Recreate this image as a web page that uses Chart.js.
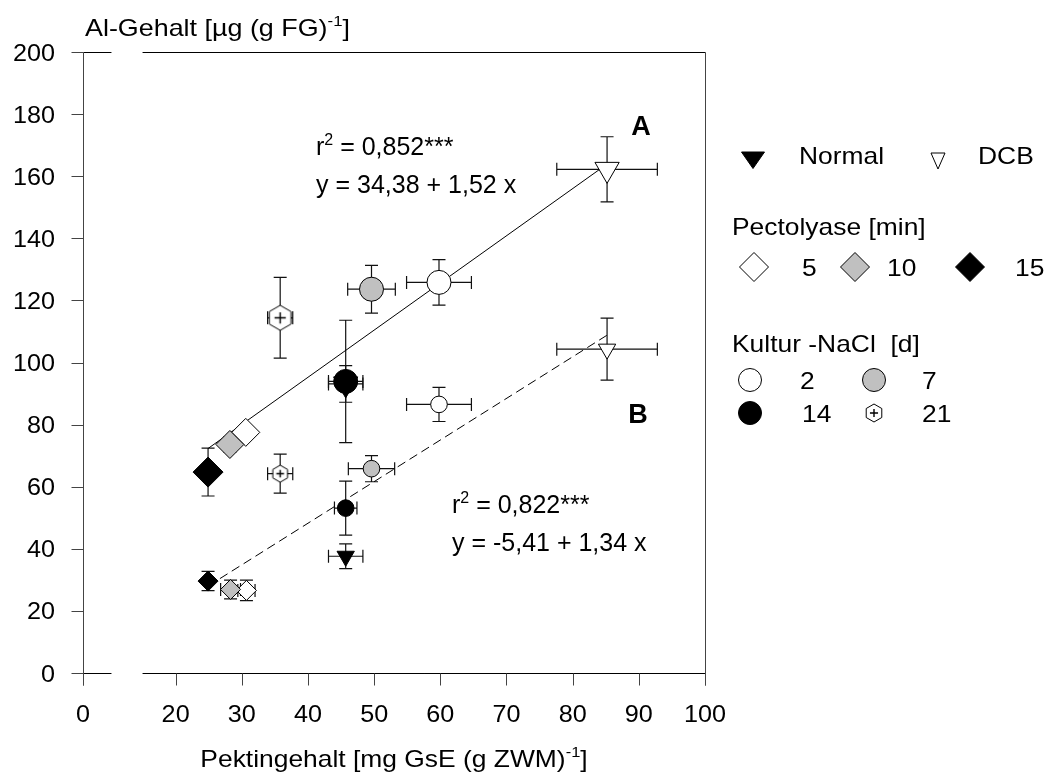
<!DOCTYPE html>
<html>
<head>
<meta charset="utf-8">
<script src="https://cdn.jsdelivr.net/npm/chart.js@4.4.0/dist/chart.umd.min.js"></script>
<style>
  html, body { margin: 0; padding: 0; background: #fff; }
  canvas { display: block; }
</style>
</head>
<body>
<canvas id="chart" width="1049" height="783"></canvas>
<script>
// values: [x, y, x error, y error]
// first row = upper group (line A), second row = lower group (line B)
const normalPts = [[45.7, 93.1, 2.6, 5.9], [45.7, 37.6, 2.6, 4.0]];
const dcbPts    = [[85.2, 162.2, 7.6, 10.5], [85.2, 104.3, 7.6, 10.0]];
const day2Pts   = [[59.8, 125.8, 4.9, 7.3], [59.8, 86.5, 4.9, 5.5]];
const day7Pts   = [[49.6, 123.6, 3.6, 7.7], [49.6, 65.8, 3.5, 4.2]];
const day14Pts  = [[45.7, 93.9, 2.6, 19.7], [45.7, 53.1, 1.7, 8.7]];
const day21Pts  = [[35.8, 114.4, 1.9, 13.0], [35.8, 64.2, 1.9, 6.3]];
const pect5Pts  = [[30.6, 77.5, 0.8, 1.5], [30.7, 26.6, 1.3, 3.3]];
const pect10Pts = [[28.2, 73.6, 1.0, 2.5], [28.3, 26.9, 1.5, 3.0]];
const pect15Pts = [[24.9, 64.7, 0.5, 7.7], [24.9, 29.6, 0.5, 3.1]];

// regression lines, end points
const fitA = [[24.9, 72.3], [85.2, 163.9]];
const fitB = [[24.9, 28.0], [85.2, 108.8]];

const xTicks = [0, 20, 30, 40, 50, 60, 70, 80, 90, 100];
const yTicks = [0, 20, 40, 60, 80, 100, 120, 140, 160, 180, 200];

// broken x axis: "0" sits at axis value 6, gap between 10.3 and 15
const X_ZERO_AT = 6;
const X_GAP = [10.3, 15];

const FONT = '"Liberation Sans", Arial, Helvetica, sans-serif';
const GRAY = '#c0c0c0';

function toPoints(arr) {
  return arr.map(p => ({ x: p[0], y: p[1], ex: p[2], ey: p[3] }));
}

// hexagon with a plus inside (Kultur 21 d)
function makeHex(r) {
  const c = document.createElement('canvas');
  const s = Math.ceil(2 * r + 4);
  c.width = s; c.height = s;
  const g = c.getContext('2d');
  const cx = s / 2, cy = s / 2;
  g.beginPath();
  for (let i = 0; i < 6; i++) {
    const a = Math.PI / 3 * i;
    const px = cx + Math.sin(a) * r, py = cy - Math.cos(a) * r;
    i ? g.lineTo(px, py) : g.moveTo(px, py);
  }
  g.closePath();
  g.fillStyle = '#fff'; g.fill();
  g.strokeStyle = '#000'; g.lineWidth = 1; g.stroke();
  const p = r * 0.45;
  g.beginPath();
  g.moveTo(cx - p, cy); g.lineTo(cx + p, cy);
  g.moveTo(cx, cy - p); g.lineTo(cx, cy + p);
  g.lineWidth = 1.4; g.stroke();
  return c;
}
const hexBig = makeHex(12.5), hexSmall = makeHex(8.5), hexLegend = makeHex(9);

function font(size, bold) { return (bold ? 'bold ' : '') + size + 'px ' + FONT; }

// text with optional superscript parts, sx = horizontal stretch
function drawRich(ctx, parts, x, y, o) {
  const size = o.size, sx = o.sx || 1;
  if (typeof parts === 'string') parts = [[parts]];
  const widths = parts.map(p => {
    ctx.font = font(p[1] ? Math.round(size * 0.62) : size, o.bold);
    return ctx.measureText(p[0]).width;
  });
  const total = widths.reduce((a, b) => a + b, 0) * sx;
  const start = x - (o.align === 'center' ? total / 2 : o.align === 'right' ? total : 0);
  ctx.save();
  ctx.translate(start, y);
  ctx.scale(sx, 1);
  ctx.fillStyle = '#000';
  ctx.textAlign = 'left';
  ctx.textBaseline = 'alphabetic';
  let cx = 0;
  parts.forEach((p, i) => {
    ctx.font = font(p[1] ? Math.round(size * 0.62) : size, o.bold);
    ctx.fillText(p[0], cx, p[1] ? -size * 0.42 : 0);
    cx += widths[i];
  });
  ctx.restore();
}

function drawMarker(ctx, kind, x, y, r, fill) {
  ctx.save();
  ctx.fillStyle = fill; ctx.strokeStyle = '#000'; ctx.lineWidth = 1;
  ctx.beginPath();
  if (kind === 'circle') ctx.arc(x, y, r, 0, Math.PI * 2);
  else if (kind === 'diamond') {
    ctx.moveTo(x - r, y); ctx.lineTo(x, y - r); ctx.lineTo(x + r, y); ctx.lineTo(x, y + r); ctx.closePath();
  } else if (kind === 'triWide') {
    ctx.moveTo(x - 11.5, y - 8); ctx.lineTo(x + 11.5, y - 8); ctx.lineTo(x, y + 8.5); ctx.closePath();
  } else if (kind === 'triNarrow') {
    ctx.moveTo(x - 7, y - 8); ctx.lineTo(x + 7, y - 8); ctx.lineTo(x, y + 8); ctx.closePath();
  }
  ctx.fill(); ctx.stroke();
  ctx.restore();
}

const CAP = 6.5;
const errorBars = {
  id: 'errorBars',
  beforeDatasetsDraw(chart) {
    const { ctx, scales: { x, y } } = chart;
    ctx.save();
    ctx.strokeStyle = '#111';
    ctx.lineWidth = 1.2;
    chart.data.datasets.forEach(ds => {
      ds.data.forEach(p => {
        if (p.ex === undefined) return;
        const px = x.getPixelForValue(p.x), py = y.getPixelForValue(p.y);
        const x0 = x.getPixelForValue(p.x - p.ex), x1 = x.getPixelForValue(p.x + p.ex);
        const y0 = y.getPixelForValue(p.y - p.ey), y1 = y.getPixelForValue(p.y + p.ey);
        ctx.beginPath();
        ctx.moveTo(x0, py); ctx.lineTo(x1, py);
        ctx.moveTo(x0, py - CAP); ctx.lineTo(x0, py + CAP);
        ctx.moveTo(x1, py - CAP); ctx.lineTo(x1, py + CAP);
        ctx.moveTo(px, y0); ctx.lineTo(px, y1);
        ctx.moveTo(px - CAP, y0); ctx.lineTo(px + CAP, y0);
        ctx.moveTo(px - CAP, y1); ctx.lineTo(px + CAP, y1);
        ctx.stroke();
      });
    });
    ctx.restore();
  }
};

const TICK = 12;
const frame = {
  id: 'frame',
  afterDraw(chart) {
    const { ctx, chartArea: a, scales: { x, y } } = chart;
    const L = Math.round(a.left) + 0.5, R = Math.round(a.right) + 0.5;
    const T = Math.round(a.top) + 0.5, B = Math.round(a.bottom) + 0.5;
    const g0 = x.getPixelForValue(X_GAP[0]), g1 = x.getPixelForValue(X_GAP[1]);
    const line = (x1, y1, x2, y2) => { ctx.beginPath(); ctx.moveTo(x1, y1); ctx.lineTo(x2, y2); ctx.stroke(); };
    ctx.save();
    ctx.lineWidth = 1;
    ctx.strokeStyle = '#000';
    [T, B].forEach(yy => { line(L, yy, g0, yy); line(g1, yy, R, yy); });
    ctx.strokeStyle = '#444';
    line(L, T, L, B + TICK);
    line(R, T, R, B + TICK);
    yTicks.forEach(v => {
      const py = Math.round(y.getPixelForValue(v)) + 0.5;
      line(L - TICK, py, L, py);
    });
    xTicks.forEach(v => {
      const px = Math.round(x.getPixelForValue(v === 0 ? X_ZERO_AT : v)) + 0.5;
      line(px, B, px, B + TICK);
    });
    ctx.restore();

    // tick labels
    const tk = { size: 24, sx: 1.05 };
    yTicks.forEach(v => {
      drawRich(ctx, String(v), 55, y.getPixelForValue(v) + 8.5, Object.assign({ align: 'right' }, tk));
    });
    xTicks.forEach(v => {
      drawRich(ctx, String(v), x.getPixelForValue(v === 0 ? X_ZERO_AT : v), 722, Object.assign({ align: 'center' }, tk));
    });

    // axis titles
    drawRich(ctx, [['Al-Gehalt [\u00b5g (g FG)'], ['-1', true], [']']], 85, 36, { size: 24, sx: 1.12 });
    drawRich(ctx, [['Pektingehalt [mg GsE (g ZWM)'], ['-1', true], [']']], (a.left + a.right) / 2, 767, { size: 24, sx: 1.1, align: 'center' });

    // regression annotations
    drawRich(ctx, 'A', 641, 135, { size: 27, bold: true, align: 'center' });
    drawRich(ctx, 'B', 638, 423, { size: 27, bold: true, align: 'center' });
    drawRich(ctx, [['r'], ['2', true], [' = 0,852***']], 316, 155, { size: 25 });
    drawRich(ctx, 'y = 34,38 + 1,52 x', 316, 193, { size: 25 });
    drawRich(ctx, [['r'], ['2', true], [' = 0,822***']], 452, 513, { size: 25 });
    drawRich(ctx, 'y = -5,41 + 1,34 x', 452, 551, { size: 25 });

    // legend
    const lg = { size: 24, sx: 1.1 };
    drawMarker(ctx, 'triWide', 753, 160, 0, '#000');
    drawRich(ctx, 'Normal', 799, 164, lg);
    drawMarker(ctx, 'triNarrow', 938, 161, 0, '#fff');
    drawRich(ctx, 'DCB', 978, 164, lg);

    drawRich(ctx, 'Pectolyase [min]', 732, 235, lg);
    drawMarker(ctx, 'diamond', 754, 267, 14.5, '#fff');
    drawRich(ctx, '5', 802, 276, lg);
    drawMarker(ctx, 'diamond', 855, 267, 14.5, GRAY);
    drawRich(ctx, '10', 887, 276, lg);
    drawMarker(ctx, 'diamond', 970, 267, 14.5, '#000');
    drawRich(ctx, '15', 1015, 276, lg);

    drawRich(ctx, 'Kultur -NaCl  [d]', 732, 352, lg);
    drawMarker(ctx, 'circle', 750, 380, 11.5, '#fff');
    drawRich(ctx, '2', 800, 389, lg);
    drawMarker(ctx, 'circle', 874, 380, 11.5, GRAY);
    drawRich(ctx, '7', 922, 389, lg);
    drawMarker(ctx, 'circle', 750, 413, 11.5, '#000');
    drawRich(ctx, '14', 802, 422, lg);
    ctx.drawImage(hexLegend, 874 - hexLegend.width / 2, 413 - hexLegend.height / 2);
    drawRich(ctx, '21', 922, 422, lg);
  }
};

function markerSet(label, pts, style, radii, fill, order, rotation) {
  return {
    label,
    data: toPoints(pts),
    pointStyle: style,
    pointRotation: rotation || 0,
    pointRadius: radii,
    pointHoverRadius: radii,
    pointBackgroundColor: fill,
    pointBorderColor: '#000',
    pointBorderWidth: 1,
    showLine: false,
    order
  };
}

function fitSet(label, pts, dash) {
  return {
    label,
    data: pts.map(p => ({ x: p[0], y: p[1] })),
    showLine: true,
    borderColor: '#000',
    borderWidth: 1,
    borderDash: dash,
    pointRadius: 0,
    pointHoverRadius: 0,
    order: 20
  };
}

new Chart(document.getElementById('chart'), {
  type: 'scatter',
  data: {
    datasets: [
      fitSet('A', fitA, []),
      fitSet('B', fitB, [9, 5]),
      markerSet('Normal', normalPts, 'triangle', [14, 10], '#000', 10, 180),
      markerSet('DCB', dcbPts, 'triangle', [14, 10], '#fff', 5, 180),
      markerSet('2 d', day2Pts, 'circle', [12, 8.3], '#fff', 5),
      markerSet('7 d', day7Pts, 'circle', [12, 8.3], GRAY, 5),
      markerSet('14 d', day14Pts, 'circle', [12, 8.3], '#000', 1),
      markerSet('21 d', day21Pts, [hexBig, hexSmall], [12, 8], '#fff', 5),
      markerSet('5 min', pect5Pts, 'rectRot', [14, 10], '#fff', 7),
      markerSet('10 min', pect10Pts, 'rectRot', [14, 10], GRAY, 6),
      markerSet('15 min', pect15Pts, 'rectRot', [15, 10], '#000', 5)
    ]
  },
  options: {
    responsive: false,
    devicePixelRatio: 1,
    animation: false,
    events: [],
    layout: { padding: { top: 52, right: 344, left: 0, bottom: 0 } },
    plugins: {
      legend: { display: false },
      tooltip: { enabled: false }
    },
    scales: {
      x: {
        type: 'linear',
        min: X_ZERO_AT,
        max: 100,
        ticks: { display: false },
        grid: { display: false },
        border: { display: false },
        afterFit(s) { s.height = 110; }
      },
      y: {
        type: 'linear',
        min: 0,
        max: 200,
        ticks: { display: false },
        grid: { display: false },
        border: { display: false },
        afterFit(s) { s.width = 83; }
      }
    }
  },
  plugins: [errorBars, frame]
});
</script>
</body>
</html>
